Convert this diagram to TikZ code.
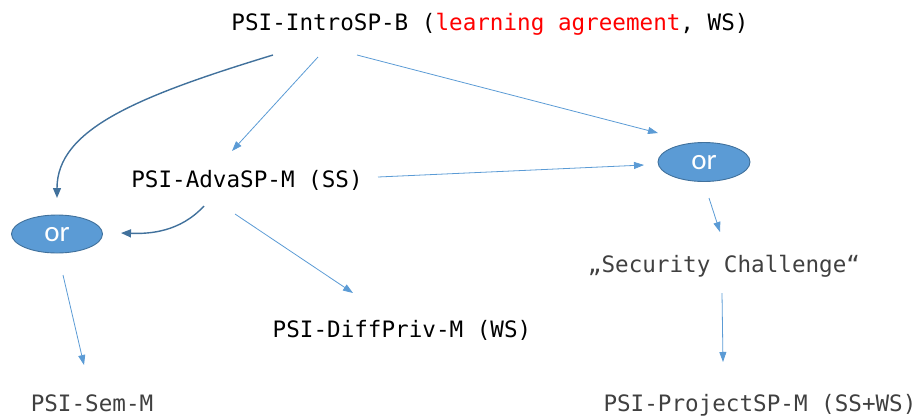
\documentclass[tikz,border=0pt]{standalone}
\usepackage{fontspec}
\setmonofont{DejaVu Sans Mono}
\newfontfamily\calib{Carlito}
\usetikzlibrary{arrows.meta,calc,shapes.geometric}
\definecolor{ofill}{HTML}{5B9BD5}
\definecolor{oedge}{HTML}{41719C}
\definecolor{lred}{HTML}{FF0000}
\definecolor{tgray}{HTML}{404040}
\tikzset{
  txt/.style={font=\ttfamily\fontsize{22.6}{27}\selectfont, inner sep=0pt, anchor=base},
  orbox/.style={ellipse, draw=oedge, line width=0.9pt, fill=ofill, text=white,
     font=\calib\fontsize{29}{32}\selectfont, inner sep=0pt},
  thin/.style={draw=ofill, line width=0.8pt, -{Triangle[length=10pt,width=7pt]}},
  thick/.style={draw=oedge, line width=1.4pt, -{Triangle[length=10pt,width=8pt]}}
}
\begin{document}
\begin{tikzpicture}[x=1pt,y=-1pt]
\useasboundingbox (0,0) rectangle (922,416);
\node[txt] (intro) at (490,30) {PSI-IntroSP-B (\textcolor{lred}{learning agreement}, WS)};
\node[txt] (advasp) at (247,187) {PSI-AdvaSP-M (SS)};
\node[txt] (diffpriv) at (402,337) {PSI-DiffPriv-M (WS)};
\node[txt, text=tgray] (security) at (724,272) {„Security Challenge“};
\node[txt, text=tgray] (sem) at (92,411) {PSI-Sem-M};
\node[txt, text=tgray] (project) at (760,411) {PSI-ProjectSP-M (SS+WS)};
\node[orbox, minimum width=91pt, minimum height=38pt] (orL) at (57,234) {\raisebox{-7.8pt}[0pt][0pt]{or}};
\node[orbox, minimum width=92pt, minimum height=39pt] (orR) at (704,162) {\raisebox{-7.8pt}[0pt][0pt]{or}};
% connectors
\draw[thick] ($(intro.base)+(-217,25)$) .. controls (135,97) and (57,130) .. ($(orL.center)+(0,-36)$);
\draw[thin] ($(intro.base)+(-172,27)$) -- ($(advasp.base)+(-15,-36)$);
\draw[thin] ($(intro.base)+(-133,25)$) -- ($(orR.center)+(-46,-29)$);
\draw[thin] ($(advasp.base)+(131,-10)$) -- ($(orR.center)+(-60,3)$);
\draw[thick] ($(advasp.base)+(-43,19)$) .. controls (180,232) and (150,234) .. ($(orL.center)+(64,-1)$);
\draw[thin] ($(advasp.base)+(-12,27)$) -- ($(diffpriv.base)+(-49,-44)$);
\draw[thin] ($(orR.center)+(5,36)$) -- ($(security.base)+(-4,-40)$);
\draw[thin] ($(security.base)+(-2,21)$) -- ($(project.base)+(-37,-49)$);
\draw[thin] ($(orL.center)+(6,41)$) -- ($(sem.base)+(-8,-46)$);
\end{tikzpicture}
\end{document}
